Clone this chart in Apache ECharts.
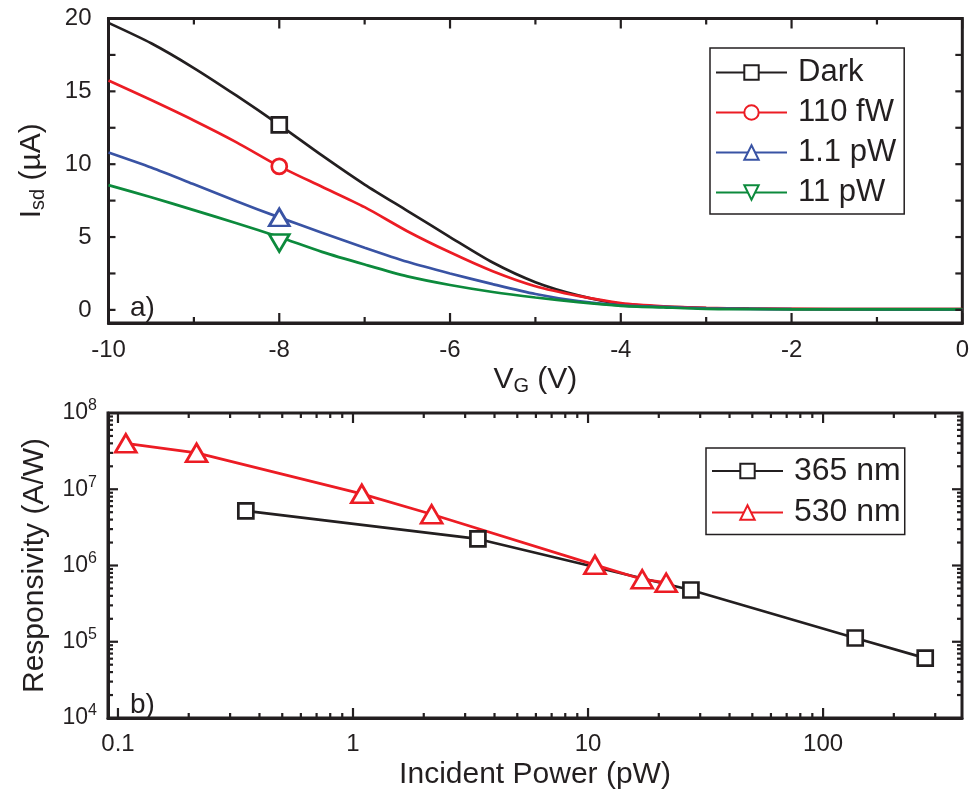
<!DOCTYPE html>
<html>
<head>
<meta charset="utf-8">
<script src="https://cdn.jsdelivr.net/npm/echarts@6/dist/echarts.min.js"></script>
<style>
html,body{margin:0;padding:0;background:#fff}
#chart{width:972px;height:791px}
</style>
</head>
<body>
<div id="chart"></div>
<script>
// panel a) transfer curves
const vg = [-10, -9.5, -9, -8.5, -8, -7.5, -7, -6.5, -6, -5.5, -5, -4.5, -4, -3.5, -3, -2.5, -2, -1, 0];
const dark   = [19.7, 18.3, 16.6, 14.7, 12.7, 10.6, 8.6, 6.8, 5.0, 3.25, 1.9, 1.0, 0.42, 0.22, 0.13, 0.08, 0.06, 0.05, 0.05];
const fw110  = [15.75, 14.4, 13.0, 11.5, 9.85, 8.45, 7.05, 5.4, 3.95, 2.65, 1.62, 0.96, 0.47, 0.25, 0.14, 0.09, 0.07, 0.05, 0.05];
const pw1_1  = [10.8, 9.77, 8.62, 7.45, 6.35, 5.3, 4.27, 3.3, 2.5, 1.77, 1.09, 0.6, 0.31, 0.2, 0.1, 0.07, 0.05, 0.04, 0.04];
const pw11   = [8.56, 7.73, 6.85, 5.95, 5.0, 3.98, 3.11, 2.3, 1.71, 1.23, 0.85, 0.53, 0.28, 0.17, 0.07, 0.05, 0.04, 0.04, 0.04];
const markerAt = [-8];

// panel b) responsivity
const power365 = [0.35, 3.4, 27.4, 137, 272];
const resp365  = [5.2e6, 2.23e6, 4.77e5, 1.12e5, 6.1e4];
const power530 = [0.108, 0.216, 1.09, 2.16, 10.7, 17.0, 21.5];
const resp530  = [4.0e7, 3.0e7, 8.7e6, 4.7e6, 1.02e6, 6.6e5, 5.95e5];

// tick positions
const xTicksA = [-10, -9, -8, -7, -6, -5, -4, -3, -2, -1, 0];
const yTicksA = [0, 2.5, 5, 7.5, 10, 12.5, 15, 17.5, 20];
const xDecades = [0.1, 1, 10, 100];
const yDecades = [1e5, 1e6, 1e7];

const INK = '#231f20';
const RED = '#ec1c24';
const BLUE = '#3953a4';
const GREEN = '#0c8a3c';
const FONT = '"Liberation Sans", Arial, Helvetica, sans-serif';

const aMin = -0.9, aMax = 20;
const xMin = 0.0907, xMax = 390, yMin = 1e4, yMax = 1e8;
let xMinor = [];
[-1, 0, 1, 2].forEach(k => {
  for (let m = 2; m <= 9; m++) {
    let v = m * Math.pow(10, k);
    if (v < xMax) xMinor.push(v);
  }
});
let yMinor = [];
[4, 5, 6, 7].forEach(k => {
  for (let m = 2; m <= 9; m++) yMinor.push(m * Math.pow(10, k));
});

// [x, y, dx, dy] : start point on the frame and the inward offset in pixels
let ticksA = [];
xTicksA.forEach(v => {
  let len = (v % 2 === 0) ? 10 : 6;
  ticksA.push([v, aMin, 0, -len], [v, aMax, 0, len]);
});
yTicksA.forEach(v => ticksA.push([-10, v, 7, 0], [0, v, -7, 0]));

let ticksB = [];
xDecades.forEach(v => ticksB.push([v, yMin, 0, -10], [v, yMax, 0, 10]));
xMinor.forEach(v => ticksB.push([v, yMin, 0, -5], [v, yMax, 0, 5]));
yDecades.forEach(v => ticksB.push([xMin, v, 10, 0], [xMax, v, -10, 0]));
yMinor.forEach(v => ticksB.push([xMin, v, 5, 0], [xMax, v, -5, 0]));

function curve(name, vals, color, symbol, size, rotate, offset) {
  return {
    name, type: 'line', xAxisIndex: 0, yAxisIndex: 0,
    data: vg.map((x, i) => markerAt.includes(x) ? [x, vals[i]] : { value: [x, vals[i]], symbol: 'none' }),
    symbol, symbolSize: size, symbolRotate: rotate || 0, symbolOffset: offset || [0, 0],
    showSymbol: true, showAllSymbol: true, smooth: 0.25,
    lineStyle: { color, width: 2.7 },
    itemStyle: { color: '#fff', borderColor: color, borderWidth: 2.7 },
    z: 3
  };
}

function logLine(name, xs, ys, color, symbol, size) {
  return {
    name, type: 'line', xAxisIndex: 1, yAxisIndex: 1,
    data: xs.map((x, i) => [x, ys[i]]),
    symbol, symbolSize: size, showSymbol: true, showAllSymbol: true,
    lineStyle: { color, width: 2.7 },
    itemStyle: { color: '#fff', borderColor: color, borderWidth: 2.7 },
    z: 3
  };
}

function line() { return { show: true, onZero: false, lineStyle: { color: INK, width: 3 } }; }
const labelStyle = { color: INK, fontSize: 24, fontFamily: FONT };
const nameStyle = { color: INK, fontSize: 30, fontFamily: FONT };
const subRich = { sub: { fontSize: 20, verticalAlign: 'bottom', lineHeight: 34, fontFamily: FONT, color: INK } };

const labelsGraphic = [
  { type: 'text', left: 130, top: 294, style: { text: 'a)', fontSize: 28, fontFamily: FONT, fill: INK } },
  { type: 'text', left: 130, top: 691, style: { text: 'b)', fontSize: 28, fontFamily: FONT, fill: INK } }
];

const chart = echarts.init(document.getElementById('chart'));
const option = {
  animation: false,
  grid: [
    { left: 108.5, right: 9, top: 18.5, height: 304.5, show: true, borderColor: INK, borderWidth: 3, backgroundColor: 'transparent' },
    { left: 108, top: 413, width: 854, height: 305, show: true, borderColor: INK, borderWidth: 3, backgroundColor: 'transparent' }
  ],
  xAxis: [
    {
      gridIndex: 0, type: 'value', position: 'bottom', min: -10, max: 0, interval: 2,
      name: 'V{sub|G} (V)', nameLocation: 'middle', nameGap: 38,
      nameTextStyle: Object.assign({}, nameStyle, { rich: subRich, lineHeight: 34 }),
      axisLine: line(), axisTick: { show: false },
      axisLabel: Object.assign({ margin: 15 }, labelStyle),
      splitLine: { show: false }
    },
    {
      gridIndex: 1, type: 'log', logBase: 10, position: 'bottom', min: xMin, max: xMax,
      name: 'Incident Power (pW)', nameLocation: 'middle', nameGap: 42, nameTextStyle: nameStyle,
      axisLine: line(), axisTick: { show: false },
      axisLabel: Object.assign({
        margin: 14, showMaxLabel: false,
        formatter: v => {
          let e = Math.log10(v);
          if (Math.abs(e - Math.round(e)) > 1e-6) return '';
          return String(Number(Math.pow(10, Math.round(e)).toPrecision(1)));
        }
      }, labelStyle),
      splitLine: { show: false }
    }
  ],
  yAxis: [
    {
      gridIndex: 0, type: 'value', position: 'left', min: aMin, max: aMax,
      name: 'I{sub|sd} (µA)', nameLocation: 'middle', nameGap: 60, nameRotate: 90,
      nameTextStyle: Object.assign({}, nameStyle, { rich: subRich, lineHeight: 34 }),
      axisLine: line(), axisTick: { show: false },
      axisLabel: Object.assign({ margin: 17, showMinLabel: false }, labelStyle),
      splitLine: { show: false }
    },
    {
      gridIndex: 1, type: 'log', logBase: 10, position: 'left', min: yMin, max: yMax,
      name: 'Responsivity (A/W)', nameLocation: 'middle', nameGap: 58, nameRotate: 90, nameTextStyle: nameStyle,
      axisLine: line(), axisTick: { show: false },
      axisLabel: Object.assign({
        margin: 11, lineHeight: 30,
        formatter: v => '10{sup|' + Math.round(Math.log10(v)) + '}',
        rich: { sup: { fontSize: 16, verticalAlign: 'top', lineHeight: 30, color: INK, fontFamily: FONT } }
      }, labelStyle, { fontSize: 23 }),
      splitLine: { show: false }
    }
  ],
  legend: [
    {
      data: ['Dark', '110 fW', '1.1 pW', '11 pW'],
      orient: 'vertical', left: 710, top: 48, selectedMode: false,
      itemWidth: 71, itemHeight: 18, itemGap: 9,
      padding: [9, 8, 6, 5],
      borderColor: INK, borderWidth: 1.5, borderRadius: 0,
      textStyle: { color: INK, fontSize: 31, fontFamily: FONT, lineHeight: 30, padding: [0, 0, 0, 6] }
    },
    {
      data: ['365 nm', '530 nm'],
      orient: 'vertical', left: 706, top: 448, selectedMode: false,
      itemWidth: 71, itemHeight: 18, itemGap: 9.5,
      padding: [7, 4, 6, 5],
      borderColor: INK, borderWidth: 1.5, borderRadius: 0,
      textStyle: { color: INK, fontSize: 32, fontFamily: FONT, lineHeight: 30, padding: [0, 0, 0, 6] }
    }
  ],
  graphic: labelsGraphic,
  series: [
    curve('Dark', dark, INK, 'rect', 15),
    curve('110 fW', fw110, RED, 'circle', 15),
    curve('1.1 pW', pw1_1, BLUE, 'triangle', [20, 17]),
    curve('11 pW', pw11, GREEN, 'triangle', [20, 17], 180, [0, 6]),
    logLine('365 nm', power365, resp365, INK, 'rect', 15),
    logLine('530 nm', power530, resp530, RED, 'triangle', [21, 18])
  ]
};
chart.setOption(option);

// inward frame ticks, placed through the axes' own scales
function tickGraphics(gridIndex, list) {
  return list.map(t => {
    const p = chart.convertToPixel({ gridIndex }, [t[0], t[1]]);
    return {
      type: 'line', z: 100,
      shape: { x1: p[0], y1: p[1], x2: p[0] + t[2], y2: p[1] + t[3] },
      style: { stroke: INK, lineWidth: 2.2 }
    };
  });
}
chart.setOption({
  graphic: labelsGraphic.concat(tickGraphics(0, ticksA), tickGraphics(1, ticksB))
});
</script>
</body>
</html>
